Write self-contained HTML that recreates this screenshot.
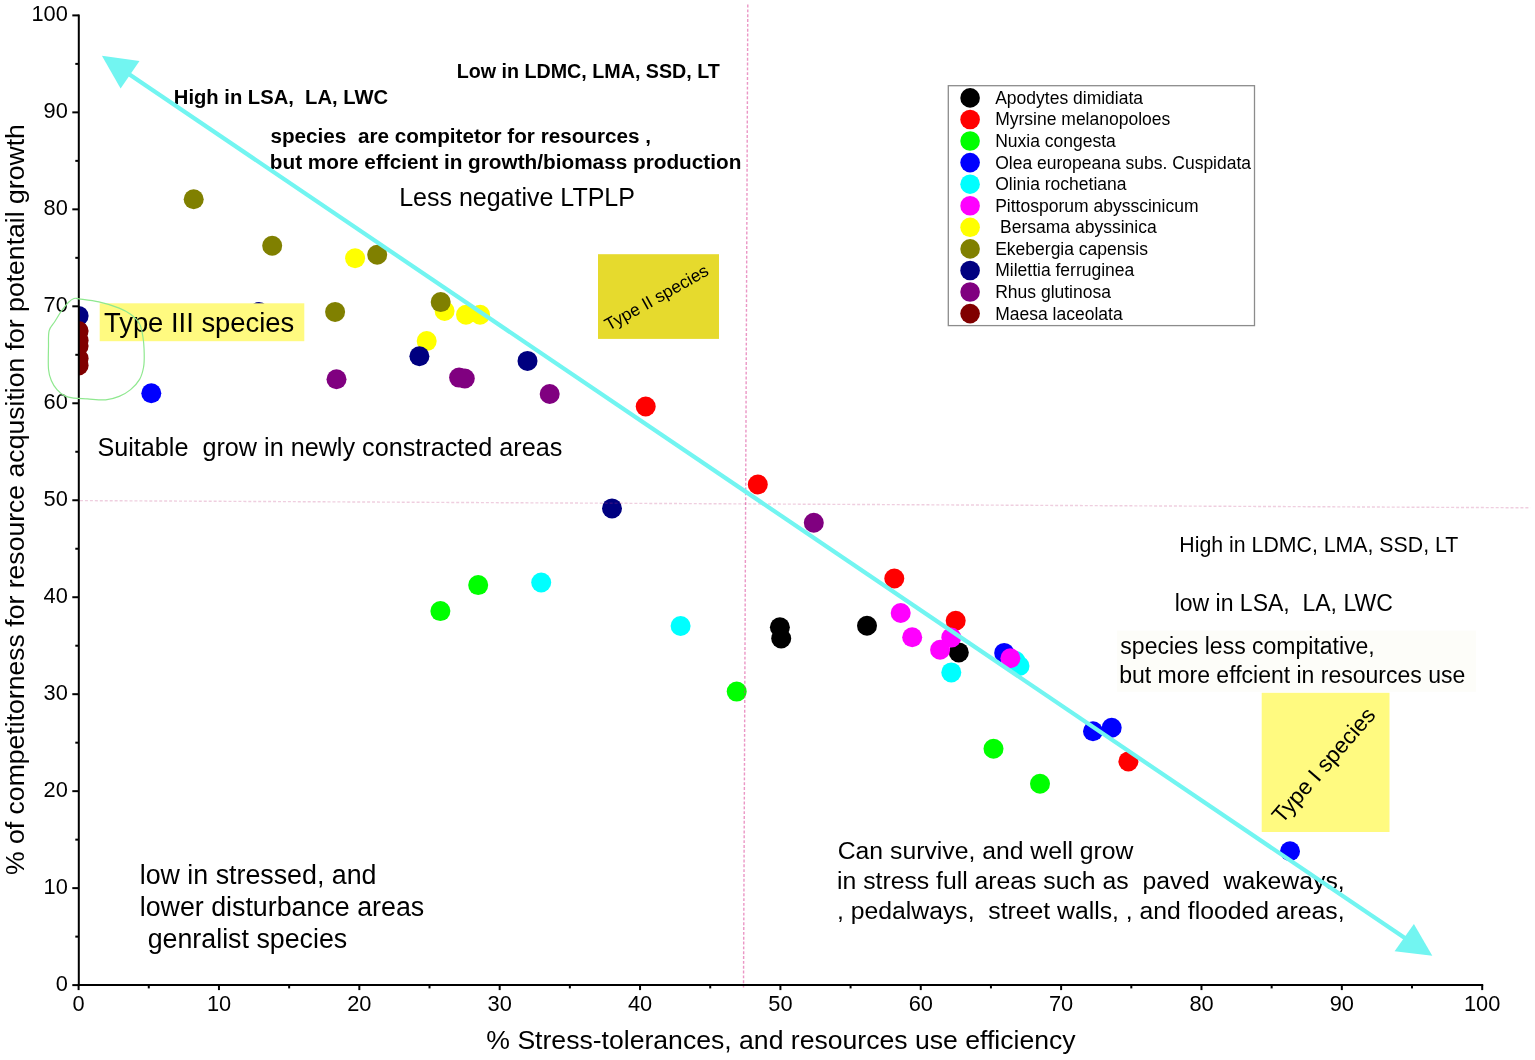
<!DOCTYPE html>
<html><head><meta charset="utf-8"><title>Plant functional strategy scatter plot</title>
<style>
html,body{margin:0;padding:0;background:#fff;width:1535px;height:1060px;overflow:hidden}
svg{display:block}
text{font-family:'Liberation Sans', Arial, sans-serif;white-space:pre;fill:#000}
.b{font-weight:bold}
</style></head><body>
<svg width="1535" height="1060" viewBox="0 0 1535 1060">
<defs><clipPath id="plot"><rect x="78.6" y="0" width="1456.4" height="985.1"/></clipPath></defs>

<rect x="1117" y="630.6" width="359" height="61.2" fill="#fdfdf9"/>
<rect x="598" y="254.2" width="121" height="84.7" fill="#e6da2d"/>
<rect x="1261.7" y="692.8" width="127.8" height="139.2" fill="#fffa80"/>
<g clip-path="url(#plot)">
<circle cx="779.9" cy="627.3" r="10" fill="#000000"/>
<circle cx="781.2" cy="638.5" r="10" fill="#000000"/>
<circle cx="867" cy="625.8" r="10" fill="#000000"/>
<circle cx="958.8" cy="652.4" r="10" fill="#000000"/>
<circle cx="645.7" cy="406.5" r="10" fill="#ff0000"/>
<circle cx="757.8" cy="484.5" r="10" fill="#ff0000"/>
<circle cx="894.3" cy="578.5" r="10" fill="#ff0000"/>
<circle cx="955.7" cy="620.7" r="10" fill="#ff0000"/>
<circle cx="1128.4" cy="761.4" r="10" fill="#ff0000"/>
<circle cx="440.4" cy="611.1" r="10" fill="#00ff00"/>
<circle cx="478.2" cy="585.1" r="10" fill="#00ff00"/>
<circle cx="736.7" cy="691.6" r="10" fill="#00ff00"/>
<circle cx="993.5" cy="748.8" r="10" fill="#00ff00"/>
<circle cx="1040" cy="783.7" r="10" fill="#00ff00"/>
<circle cx="151.3" cy="393.3" r="10" fill="#0000ff"/>
<circle cx="1004.2" cy="652.9" r="10" fill="#0000ff"/>
<circle cx="1093" cy="731.2" r="10" fill="#0000ff"/>
<circle cx="1111.7" cy="727.7" r="10" fill="#0000ff"/>
<circle cx="1290" cy="851.3" r="10" fill="#0000ff"/>
<circle cx="541.2" cy="582.5" r="10" fill="#00ffff"/>
<circle cx="680.6" cy="626" r="10" fill="#00ffff"/>
<circle cx="951.3" cy="672.4" r="10" fill="#00ffff"/>
<circle cx="1015.5" cy="661" r="10" fill="#00ffff"/>
<circle cx="1019.5" cy="666" r="10" fill="#00ffff"/>
<circle cx="900.7" cy="613" r="10" fill="#ff00ff"/>
<circle cx="912.2" cy="637.2" r="10" fill="#ff00ff"/>
<circle cx="951.3" cy="637.6" r="10" fill="#ff00ff"/>
<circle cx="940.1" cy="649.7" r="10" fill="#ff00ff"/>
<circle cx="1010.4" cy="658.2" r="10" fill="#ff00ff"/>
<circle cx="355.1" cy="258.2" r="10" fill="#ffff00"/>
<circle cx="444.6" cy="311" r="10" fill="#ffff00"/>
<circle cx="466" cy="314.8" r="10" fill="#ffff00"/>
<circle cx="480.1" cy="314.7" r="10" fill="#ffff00"/>
<circle cx="426.7" cy="341.1" r="10" fill="#ffff00"/>
<circle cx="193.7" cy="199.2" r="10" fill="#808000"/>
<circle cx="272.2" cy="245.8" r="10" fill="#808000"/>
<circle cx="377.2" cy="254.7" r="10" fill="#808000"/>
<circle cx="335.1" cy="311.9" r="10" fill="#808000"/>
<circle cx="440.7" cy="302.1" r="10" fill="#808000"/>
<circle cx="78.6" cy="315.9" r="10" fill="#000080"/>
<circle cx="259" cy="312" r="10" fill="#000080"/>
<circle cx="419.4" cy="356.2" r="10" fill="#000080"/>
<circle cx="527.5" cy="360.9" r="10" fill="#000080"/>
<circle cx="612" cy="508.4" r="10" fill="#000080"/>
<circle cx="336.5" cy="379.2" r="10" fill="#800080"/>
<circle cx="459.1" cy="377.6" r="10" fill="#800080"/>
<circle cx="464.8" cy="378.5" r="10" fill="#800080"/>
<circle cx="549.7" cy="394" r="10" fill="#800080"/>
<circle cx="813.8" cy="522.8" r="10" fill="#800080"/>
<circle cx="78.6" cy="331" r="10" fill="#800000"/>
<circle cx="78.6" cy="340.5" r="10" fill="#800000"/>
<circle cx="78.6" cy="346" r="10" fill="#800000"/>
<circle cx="78.6" cy="358.5" r="10" fill="#800000"/>
<circle cx="78.6" cy="365.5" r="10" fill="#800000"/>
</g>
<line x1="747.8" y1="4.6" x2="743.5" y2="987.6" stroke="rgb(215,45,140)" stroke-opacity="0.5" stroke-width="1.4" stroke-dasharray="2.9 1.93"/>
<line x1="80" y1="500.6" x2="1530.4" y2="507.8" stroke="rgb(190,50,120)" stroke-opacity="0.24" stroke-width="1.4" stroke-dasharray="3 1.95"/>
<rect x="99.7" y="303.3" width="204.6" height="37.9" fill="#fffa80"/>
<g stroke="#000" stroke-width="2" fill="none">
<line x1="78.8" y1="986.1" x2="78.8" y2="14.4"/>
<line x1="77.8" y1="985.1" x2="1483.1999999999998" y2="985.1"/>
<line x1="72.3" y1="985.10" x2="78.8" y2="985.10"/>
<line x1="78.60" y1="985.1" x2="78.60" y2="990.1"/>
<line x1="75.3" y1="936.62" x2="78.8" y2="936.62"/>
<line x1="148.78" y1="985.1" x2="148.78" y2="988.4"/>
<line x1="72.3" y1="888.13" x2="78.8" y2="888.13"/>
<line x1="218.96" y1="985.1" x2="218.96" y2="990.1"/>
<line x1="75.3" y1="839.64" x2="78.8" y2="839.64"/>
<line x1="289.14" y1="985.1" x2="289.14" y2="988.4"/>
<line x1="72.3" y1="791.16" x2="78.8" y2="791.16"/>
<line x1="359.32" y1="985.1" x2="359.32" y2="990.1"/>
<line x1="75.3" y1="742.68" x2="78.8" y2="742.68"/>
<line x1="429.50" y1="985.1" x2="429.50" y2="988.4"/>
<line x1="72.3" y1="694.19" x2="78.8" y2="694.19"/>
<line x1="499.68" y1="985.1" x2="499.68" y2="990.1"/>
<line x1="75.3" y1="645.71" x2="78.8" y2="645.71"/>
<line x1="569.86" y1="985.1" x2="569.86" y2="988.4"/>
<line x1="72.3" y1="597.22" x2="78.8" y2="597.22"/>
<line x1="640.04" y1="985.1" x2="640.04" y2="990.1"/>
<line x1="75.3" y1="548.74" x2="78.8" y2="548.74"/>
<line x1="710.22" y1="985.1" x2="710.22" y2="988.4"/>
<line x1="72.3" y1="500.25" x2="78.8" y2="500.25"/>
<line x1="780.40" y1="985.1" x2="780.40" y2="990.1"/>
<line x1="75.3" y1="451.77" x2="78.8" y2="451.77"/>
<line x1="850.58" y1="985.1" x2="850.58" y2="988.4"/>
<line x1="72.3" y1="403.28" x2="78.8" y2="403.28"/>
<line x1="920.76" y1="985.1" x2="920.76" y2="990.1"/>
<line x1="75.3" y1="354.80" x2="78.8" y2="354.80"/>
<line x1="990.94" y1="985.1" x2="990.94" y2="988.4"/>
<line x1="72.3" y1="306.31" x2="78.8" y2="306.31"/>
<line x1="1061.12" y1="985.1" x2="1061.12" y2="990.1"/>
<line x1="75.3" y1="257.83" x2="78.8" y2="257.83"/>
<line x1="1131.30" y1="985.1" x2="1131.30" y2="988.4"/>
<line x1="72.3" y1="209.34" x2="78.8" y2="209.34"/>
<line x1="1201.48" y1="985.1" x2="1201.48" y2="990.1"/>
<line x1="75.3" y1="160.86" x2="78.8" y2="160.86"/>
<line x1="1271.66" y1="985.1" x2="1271.66" y2="988.4"/>
<line x1="72.3" y1="112.37" x2="78.8" y2="112.37"/>
<line x1="1341.84" y1="985.1" x2="1341.84" y2="990.1"/>
<line x1="75.3" y1="63.89" x2="78.8" y2="63.89"/>
<line x1="1412.02" y1="985.1" x2="1412.02" y2="988.4"/>
<line x1="72.3" y1="15.40" x2="78.8" y2="15.40"/>
<line x1="1482.20" y1="985.1" x2="1482.20" y2="990.1"/>
</g>
<text x="67.8" y="990.6" font-size="21.8" text-anchor="end">0</text>
<text x="78.6" y="1010.6" font-size="21.8" text-anchor="middle">0</text>
<text x="67.8" y="893.6" font-size="21.8" text-anchor="end">10</text>
<text x="219.0" y="1010.6" font-size="21.8" text-anchor="middle">10</text>
<text x="67.8" y="796.7" font-size="21.8" text-anchor="end">20</text>
<text x="359.3" y="1010.6" font-size="21.8" text-anchor="middle">20</text>
<text x="67.8" y="699.7" font-size="21.8" text-anchor="end">30</text>
<text x="499.7" y="1010.6" font-size="21.8" text-anchor="middle">30</text>
<text x="67.8" y="602.7" font-size="21.8" text-anchor="end">40</text>
<text x="640.0" y="1010.6" font-size="21.8" text-anchor="middle">40</text>
<text x="67.8" y="505.8" font-size="21.8" text-anchor="end">50</text>
<text x="780.4" y="1010.6" font-size="21.8" text-anchor="middle">50</text>
<text x="67.8" y="408.8" font-size="21.8" text-anchor="end">60</text>
<text x="920.8" y="1010.6" font-size="21.8" text-anchor="middle">60</text>
<text x="67.8" y="311.8" font-size="21.8" text-anchor="end">70</text>
<text x="1061.1" y="1010.6" font-size="21.8" text-anchor="middle">70</text>
<text x="67.8" y="214.8" font-size="21.8" text-anchor="end">80</text>
<text x="1201.5" y="1010.6" font-size="21.8" text-anchor="middle">80</text>
<text x="67.8" y="117.9" font-size="21.8" text-anchor="end">90</text>
<text x="1341.8" y="1010.6" font-size="21.8" text-anchor="middle">90</text>
<text x="67.8" y="20.9" font-size="21.8" text-anchor="end">100</text>
<text x="1482.2" y="1010.6" font-size="21.8" text-anchor="middle">100</text>
<text x="781" y="1049.4" font-size="26.6" text-anchor="middle">% Stress-tolerances, and resources use efficiency</text>
<text transform="translate(24.2,499.6) rotate(-90)" font-size="26.6" text-anchor="middle">% of competitorness for resource acqusition for potentail growth</text>
<text x="456.68" y="77.90" font-size="19.7" class="b">Low in LDMC, LMA, SSD, LT</text>
<text x="173.85" y="103.50" font-size="20.2" class="b">High in LSA,  LA, LWC</text>
<text x="270.47" y="142.50" font-size="20.7" class="b">species  are compitetor for resources ,</text>
<text x="269.83" y="169.20" font-size="20.75" class="b">but more effcient in growth/biomass production</text>
<text x="399.15" y="205.70" font-size="25">Less negative LTPLP</text>
<text x="97.46" y="456.00" font-size="25.2">Suitable  grow in newly constracted areas</text>
<text x="1179.35" y="552.40" font-size="21.3">High in LDMC, LMA, SSD, LT</text>
<text x="1174.65" y="611.10" font-size="23">low in LSA,  LA, LWC</text>
<text x="1120.36" y="654.40" font-size="23">species less compitative,</text>
<text x="1119.22" y="682.90" font-size="23">but more effcient in resources use</text>
<text x="837.74" y="858.80" font-size="24.75">Can survive, and well grow</text>
<text x="837.04" y="888.70" font-size="24.75">in stress full areas such as  paved  wakeways,</text>
<text x="836.98" y="919.20" font-size="24.75">, pedalways,  street walls, , and flooded areas,</text>
<text x="139.69" y="883.60" font-size="26.8">low in stressed, and</text>
<text x="139.69" y="915.70" font-size="26.8">lower disturbance areas</text>
<text x="140.23" y="948.10" font-size="26.8"> genralist species</text>
<text x="103.98" y="331.80" font-size="27.4">Type III species</text>
<text transform="translate(608.8,331.1) rotate(-29.3)" font-size="17.4">Type II species</text>
<text transform="translate(1282,824.5) rotate(-49)" font-size="22.55">Type I species</text>
<path d="M74.0,298.5 C75.8,297.9 74.9,298.2 79.1,298.8 C83.2,299.4 92.2,300.3 98.9,301.9 C105.6,303.4 113.9,306.0 119.2,308.1 C124.5,310.2 127.2,311.7 130.6,314.3 C134.0,316.9 137.5,320.1 139.6,324.0 C141.7,327.9 142.2,332.6 143.0,337.5 C143.8,342.4 144.1,348.5 144.2,353.4 C144.3,358.3 144.4,362.7 143.6,367.0 C142.8,371.3 141.8,375.6 139.6,379.4 C137.4,383.2 134.0,386.8 130.6,389.6 C127.2,392.4 123.3,394.7 119.2,396.4 C115.1,398.1 111.0,399.4 105.7,399.8 C100.4,400.2 92.8,399.2 87.5,398.9 C82.2,398.6 77.8,398.6 74.0,398.1 C70.2,397.6 67.7,397.3 64.9,395.9 C62.1,394.5 59.3,392.2 57.0,389.6 C54.7,387.1 52.7,384.0 51.3,380.6 C49.9,377.2 49.0,374.9 48.5,369.2 C48.0,363.5 48.4,353.0 48.5,346.6 C48.6,340.2 48.1,335.0 49.1,330.8 C50.1,326.6 52.6,325.0 54.7,321.7 C56.8,318.4 59.2,314.1 61.5,310.9 C63.8,307.7 66.2,304.6 68.3,302.5 C70.4,300.4 72.2,299.1 74.0,298.5 Z" fill="none" stroke="#8fe88f" stroke-width="1.2" stroke-linejoin="round"/>
<rect x="948.3" y="85.7" width="306.2" height="239.9" fill="#fff" stroke="#8c8c8c" stroke-width="1.3"/>
<circle cx="970.1" cy="97.90" r="9.8" fill="#000000"/>
<text x="995.2" y="103.80" font-size="17.5">Apodytes dimidiata</text>
<circle cx="970.1" cy="119.47" r="9.8" fill="#ff0000"/>
<text x="995.2" y="125.37" font-size="17.5">Myrsine melanopoloes</text>
<circle cx="970.1" cy="141.04" r="9.8" fill="#00ff00"/>
<text x="995.2" y="146.94" font-size="17.5">Nuxia congesta</text>
<circle cx="970.1" cy="162.61" r="9.8" fill="#0000ff"/>
<text x="995.2" y="168.51" font-size="17.5">Olea europeana subs. Cuspidata</text>
<circle cx="970.1" cy="184.18" r="9.8" fill="#00ffff"/>
<text x="995.2" y="190.08" font-size="17.5">Olinia rochetiana</text>
<circle cx="970.1" cy="205.75" r="9.8" fill="#ff00ff"/>
<text x="995.2" y="211.65" font-size="17.5">Pittosporum abysscinicum</text>
<circle cx="970.1" cy="227.32" r="9.8" fill="#ffff00"/>
<text x="995.2" y="233.22" font-size="17.5"> Bersama abyssinica</text>
<circle cx="970.1" cy="248.89" r="9.8" fill="#808000"/>
<text x="995.2" y="254.79" font-size="17.5">Ekebergia capensis</text>
<circle cx="970.1" cy="270.46" r="9.8" fill="#000080"/>
<text x="995.2" y="276.36" font-size="17.5">Milettia ferruginea</text>
<circle cx="970.1" cy="292.03" r="9.8" fill="#800080"/>
<text x="995.2" y="297.93" font-size="17.5">Rhus glutinosa</text>
<circle cx="970.1" cy="313.60" r="9.8" fill="#800000"/>
<text x="995.2" y="319.50" font-size="17.5">Maesa laceolata</text>
<line x1="125.1" y1="71.5" x2="1409.3" y2="941.1" stroke="#72f5f1" stroke-width="4.2"/>
<polygon points="101.9,55.8 139.5,61.1 120.6,88.6" fill="#72f5f1"/>
<polygon points="1432.3,955.8 1413.9,924.1 1394.6,951.2" fill="#72f5f1"/>
</svg></body></html>
